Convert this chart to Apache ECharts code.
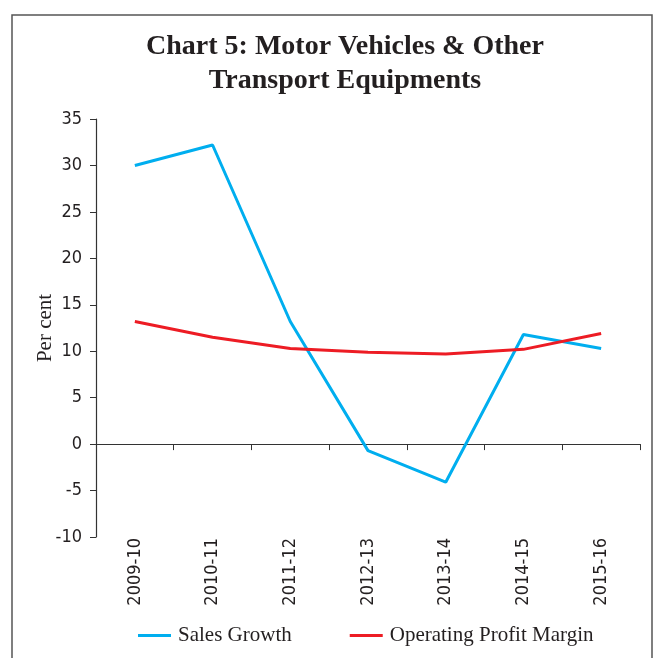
<!DOCTYPE html>
<html>
<head>
<meta charset="utf-8">
<script src="https://cdn.jsdelivr.net/npm/echarts@6/dist/echarts.min.js"></script>
<style>
  html, body { margin: 0; padding: 0; background: #fff; }
  #chart { width: 656px; height: 658px; }
</style>
</head>
<body>
<div id="chart"></div>
<script>
// data
var years = ['2009-10', '2010-11', '2011-12', '2012-13', '2013-14', '2014-15', '2015-16'];
var salesGrowth = [30.0, 32.2, 13.2, -0.7, -4.1, 11.8, 10.3];
var profitMargin = [13.2, 11.5, 10.3, 9.9, 9.7, 10.2, 11.9];

var serif = '"Liberation Serif", "DejaVu Serif", serif';
var sans = '"DejaVu Sans Condensed", "DejaVu Sans", sans-serif';

var option = {
    animation: false,
    backgroundColor: '#fff',
    title: {
        text: 'Chart 5: Motor Vehicles & Other\nTransport Equipments',
        left: 340,
        top: 25,
        textAlign: 'center',
        textStyle: {
            fontFamily: serif,
            fontWeight: 'bold',
            fontSize: 28,
            lineHeight: 34,
            color: '#231f20'
        }
    },
    graphic: [{
        type: 'rect',
        shape: { x: 12, y: 15, width: 640, height: 700 },
        style: { fill: 'none', stroke: '#555', lineWidth: 1.5 },
        silent: true
    }],
    legend: {
        data: ['Sales Growth', 'Operating Profit Margin'],
        left: 133,
        top: 620,
        icon: 'rect',
        itemWidth: 33,
        itemHeight: 3,
        itemGap: 58,
        textStyle: { fontFamily: serif, fontSize: 21, color: '#231f20', padding: [0, 0, 0, 2] }
    },
    grid: {
        left: 96,
        right: 16,
        top: 119,
        bottom: 121
    },
    xAxis: [{
        type: 'category',
        data: years,
        position: 'bottom',
        axisLine: { show: false, onZero: false },
        axisTick: { show: false },
        axisLabel: {
            rotate: 90,
            margin: 1,
            fontFamily: sans,
            fontSize: 18,
            color: '#231f20'
        }
    }, {
        type: 'category',
        data: years,
        position: 'bottom',
        axisLine: { show: true, onZero: true, lineStyle: { color: '#333', width: 1.2 } },
        axisTick: { show: true, inside: false, length: 6, lineStyle: { color: '#333' } },
        axisLabel: { show: false }
    }],
    yAxis: {
        type: 'value',
        min: -10,
        max: 35,
        interval: 5,
        name: 'Per cent',
        nameLocation: 'middle',
        nameGap: 40,
        nameMoveOverlap: false,
        nameTextStyle: { fontFamily: serif, fontSize: 21, color: '#231f20' },
        axisLine: { show: true, lineStyle: { color: '#333', width: 1.2 } },
        axisTick: { show: true, length: 6, lineStyle: { color: '#333' } },
        splitLine: { show: false },
        axisLabel: {
            margin: 14,
            fontFamily: sans,
            fontSize: 18,
            color: '#231f20'
        }
    },
    series: [{
        name: 'Sales Growth',
        type: 'line',
        xAxisIndex: 0,
        data: salesGrowth,
        showSymbol: false,
        symbol: 'none',
        itemStyle: { color: '#00aeef' },
        lineStyle: { color: '#00aeef', width: 3 }
    }, {
        name: 'Operating Profit Margin',
        type: 'line',
        xAxisIndex: 0,
        data: profitMargin,
        showSymbol: false,
        symbol: 'none',
        itemStyle: { color: '#ed1c24' },
        lineStyle: { color: '#ed1c24', width: 3 }
    }]
};

var myChart = echarts.init(document.getElementById('chart'));
myChart.setOption(option);
</script>
</body>
</html>
